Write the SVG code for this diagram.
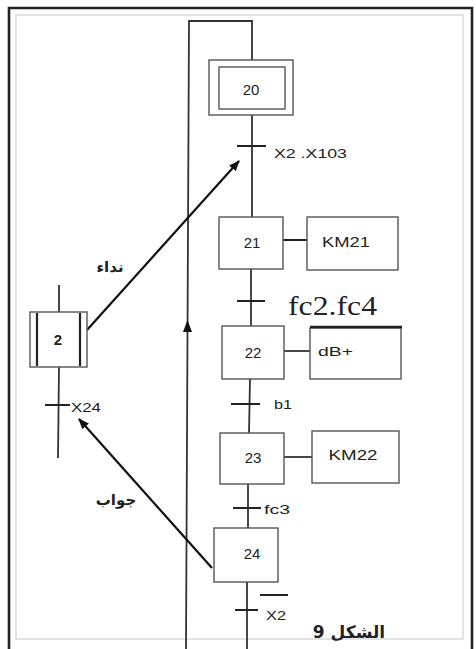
<svg xmlns="http://www.w3.org/2000/svg" width="476" height="649" viewBox="0 0 476 649">
<style>
.box{fill:#fff;stroke:#555;stroke-width:1.4}
.ln{stroke:#333;stroke-width:1.8;fill:none}
.tk{stroke:#222;stroke-width:2;fill:none}
.arw{stroke:#111;stroke-width:2.2;fill:none}
.num{font-family:"Liberation Sans",Arial,sans-serif;font-size:15px;fill:#222;text-anchor:middle;dominant-baseline:central}
.lbl{font-family:"Liberation Sans",Arial,sans-serif;font-size:13px;fill:#222;dominant-baseline:central}
.ar{font-family:"DejaVu Sans","Noto Sans",sans-serif;fill:#222;text-anchor:middle}
</style>
<defs>
<marker id="ah" viewBox="0 0 10 10" refX="9" refY="5" markerWidth="5" markerHeight="5" orient="auto" markerUnits="strokeWidth">
<path d="M0,1 L10,5 L0,9 z" fill="#111"/>
</marker>
</defs>
<rect width="476" height="649" fill="#fff"/>
<!-- frame -->
<rect x="16" y="15" width="447" height="624" fill="none" stroke="#d0d0d0" stroke-width="1.2"/>
<path d="M9,649 L9,8 L472,8 L472,649" fill="none" stroke="#222" stroke-width="2.6"/>

<g id="connectors">
<!-- loop line -->
<path class="ln" d="M186,649 L189,21 L252,21 L252,60"/>
<path d="M187.5,320 L192,332 L183,332 z" fill="#111"/>
<!-- main column -->
<path class="ln" d="M252,115 L252,217"/>
<path class="ln" d="M251,269 L251,326"/>
<path class="ln" d="M250,379 L249,433"/>
<path class="ln" d="M248,484 L248,528"/>
<path class="ln" d="M247,582 L247,649"/>
<!-- action links -->
<path class="tk" d="M283,240 L307,240" stroke-width="2.6"/>
<path class="ln" d="M284,351 L310,351"/>
<path class="ln" d="M284,457 L312,457"/>
<!-- step 2 column -->
<path class="ln" d="M59,285 L59,312"/>
<path class="ln" d="M59,367 L58,458"/>
<!-- transitions -->
<path class="tk" d="M237,146 L266,146"/>
<path class="tk" d="M237,301 L265,301"/>
<path class="tk" d="M231,404 L260,404"/>
<path class="tk" d="M233,508 L261,508"/>
<path class="tk" d="M235,610 L258,610"/>
<path class="tk" d="M45,405 L70,405"/>
<!-- arrows -->
<path class="arw" d="M87,330 L239,161" marker-end="url(#ah)"/>
<path class="arw" d="M212,568 L79,419" marker-end="url(#ah)"/>
</g>

<g id="step20">
<rect class="box" x="209" y="60" width="84" height="55"/>
<rect class="box" x="219" y="67" width="66" height="42"/>
<text class="num" x="251" y="89">20</text>
</g>
<g id="step21">
<rect class="box" x="219" y="217" width="64" height="52"/>
<text class="num" x="252" y="242">21</text>
</g>
<g id="action21">
<rect class="box" x="307" y="217" width="91" height="53"/>
<text class="num" x="346" y="241" textLength="48" lengthAdjust="spacingAndGlyphs">KM21</text>
</g>
<g id="step22">
<rect class="box" x="222" y="326" width="62" height="53"/>
<text class="num" x="253" y="352">22</text>
</g>
<g id="action22">
<rect class="box" x="310" y="328" width="91" height="51"/>
<path d="M310,327 L402,327" stroke="#222" stroke-width="2.6"/>
<text class="lbl" x="318" y="351" textLength="35" lengthAdjust="spacingAndGlyphs">dB+</text>
</g>
<g id="step23">
<rect class="box" x="220" y="433" width="64" height="51"/>
<text class="num" x="253" y="457">23</text>
</g>
<g id="action23">
<rect class="box" x="312" y="431" width="87" height="52"/>
<text class="num" x="353" y="454" textLength="49" lengthAdjust="spacingAndGlyphs">KM22</text>
</g>
<g id="step24">
<rect class="box" x="214" y="528" width="64" height="54"/>
<text class="num" x="252" y="553">24</text>
</g>
<g id="step2">
<rect class="box" x="30" y="312" width="57" height="55"/>
<path d="M37,313 L37,366 M80,313 L80,366" stroke="#222" stroke-width="2.2"/>
<text class="num" x="58" y="339" font-weight="bold">2</text>
</g>

<g id="labels">
<text class="lbl" x="274" y="153" font-size="15" textLength="73" lengthAdjust="spacingAndGlyphs">X2 .X103</text>
<text x="288" y="315" font-family="'Liberation Serif','Times New Roman',serif" font-size="27" fill="#222" textLength="89" lengthAdjust="spacingAndGlyphs">fc2.fc4</text>
<text class="lbl" x="274" y="404" textLength="18" lengthAdjust="spacingAndGlyphs">b1</text>
<text class="lbl" x="264" y="509" textLength="26" lengthAdjust="spacingAndGlyphs">fc3</text>
<text class="lbl" x="266" y="615" textLength="20" lengthAdjust="spacingAndGlyphs">X2</text>
<path d="M260,595 L288,595" stroke="#222" stroke-width="2"/>
<text class="lbl" x="71" y="407" textLength="30" lengthAdjust="spacingAndGlyphs">X24</text>
<text class="ar" x="110" y="272" font-size="15" font-weight="bold" direction="rtl">نداء</text>
<text class="ar" x="116" y="505" font-size="15" font-weight="bold" direction="rtl">جواب</text>
<text class="ar" x="349" y="638" font-size="17" font-weight="bold" direction="rtl">الشكل 9</text>
</g>
</svg>
